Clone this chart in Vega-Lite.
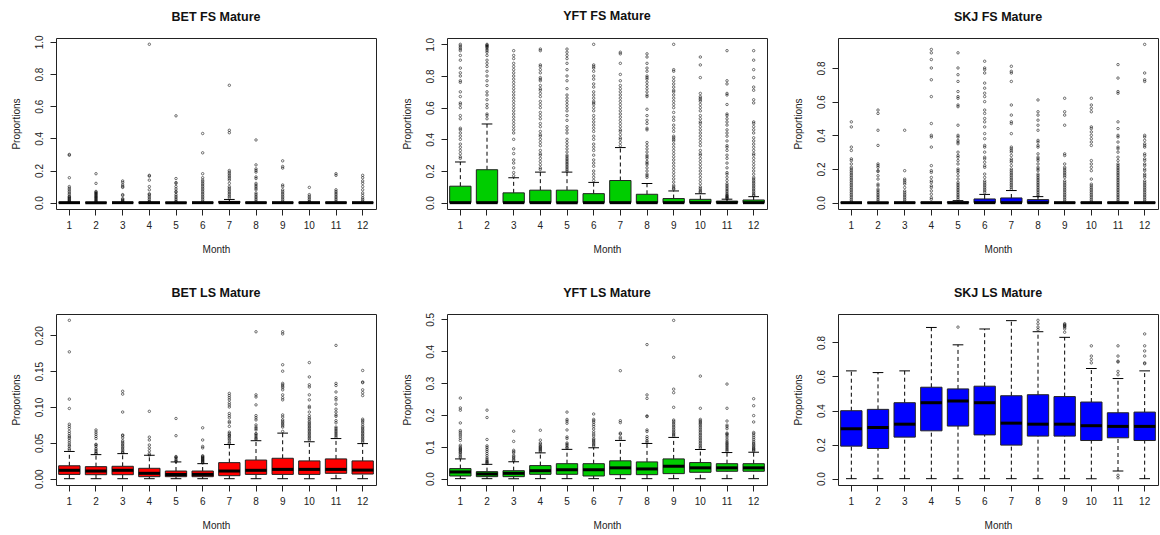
{
"$schema": "https://vega.github.io/schema/vega-lite/v6.json",
"background": "white",
"padding": {"left": 10, "top": 9, "right": 0, "bottom": 0},
"config": {
  "font": "Liberation Sans",
  "view": {"stroke": "#222", "strokeWidth": 1},
  "axis": {"labelFont": "Liberation Sans", "labelFontSize": 10, "labelColor": "#222", "titleFont": "Liberation Sans", "titleFontSize": 10, "titleFontWeight": "normal", "titleColor": "#222", "tickColor": "#222", "tickSize": 6, "domain": false, "grid": false},
  "axisX": {"labelAngle": 0, "labelPadding": 5, "titleY": 40, "titleBaseline": "middle"},
  "axisY": {"labelAngle": -90, "labelAlign": "center", "labelBaseline": "bottom", "labelPadding": 6, "titleX": -40, "titleBaseline": "middle"},
  "title": {"font": "Liberation Sans", "fontSize": 12.5, "fontWeight": "bold", "anchor": "middle", "frame": "group", "baseline": "alphabetic", "offset": 15, "color": "#111"}
},
"datasets": {
"box": [
{"p":1,"m":1,"lo":0,"q1":0,"md":0,"q3":0,"hi":0},{"p":1,"m":2,"lo":0,"q1":0,"md":0,"q3":0,"hi":0},{"p":1,"m":3,"lo":0,"q1":0,"md":0,"q3":0,"hi":0},{"p":1,"m":4,"lo":0,"q1":0,"md":0,"q3":0,"hi":0},{"p":1,"m":5,"lo":0,"q1":0,"md":0,"q3":0,"hi":0},{"p":1,"m":6,"lo":0,"q1":0,"md":0,"q3":0,"hi":0},{"p":1,"m":7,"lo":0,"q1":0,"md":0,"q3":0.008,"hi":0.02},{"p":1,"m":8,"lo":0,"q1":0,"md":0,"q3":0,"hi":0},{"p":1,"m":9,"lo":0,"q1":0,"md":0,"q3":0,"hi":0},{"p":1,"m":10,"lo":0,"q1":0,"md":0,"q3":0,"hi":0},{"p":1,"m":11,"lo":0,"q1":0,"md":0,"q3":0,"hi":0},{"p":1,"m":12,"lo":0,"q1":0,"md":0,"q3":0,"hi":0},
{"p":2,"m":1,"lo":0,"q1":0,"md":0,"q3":0.104,"hi":0.257},{"p":2,"m":2,"lo":0,"q1":0,"md":0,"q3":0.208,"hi":0.497},{"p":2,"m":3,"lo":0,"q1":0,"md":0,"q3":0.062,"hi":0.157},{"p":2,"m":4,"lo":0,"q1":0,"md":0,"q3":0.079,"hi":0.193},{"p":2,"m":5,"lo":0,"q1":0,"md":0,"q3":0.079,"hi":0.193},{"p":2,"m":6,"lo":0,"q1":0,"md":0,"q3":0.057,"hi":0.128},{"p":2,"m":7,"lo":0,"q1":0,"md":0,"q3":0.14,"hi":0.348},{"p":2,"m":8,"lo":0,"q1":0,"md":0,"q3":0.053,"hi":0.121},{"p":2,"m":9,"lo":0,"q1":0,"md":0,"q3":0.026,"hi":0.074},{"p":2,"m":10,"lo":0,"q1":0,"md":0,"q3":0.021,"hi":0.057},{"p":2,"m":11,"lo":0,"q1":0,"md":0,"q3":0.01,"hi":0.022},{"p":2,"m":12,"lo":0,"q1":0,"md":0,"q3":0.017,"hi":0.038},
{"p":3,"m":1,"lo":0,"q1":0,"md":0,"q3":0,"hi":0},{"p":3,"m":2,"lo":0,"q1":0,"md":0,"q3":0,"hi":0},{"p":3,"m":3,"lo":0,"q1":0,"md":0,"q3":0,"hi":0},{"p":3,"m":4,"lo":0,"q1":0,"md":0,"q3":0,"hi":0},{"p":3,"m":5,"lo":0,"q1":0,"md":0,"q3":0.005,"hi":0.012},{"p":3,"m":6,"lo":0,"q1":0,"md":0,"q3":0.022,"hi":0.049},{"p":3,"m":7,"lo":0,"q1":0,"md":0,"q3":0.028,"hi":0.072},{"p":3,"m":8,"lo":0,"q1":0,"md":0,"q3":0.018,"hi":0.036},{"p":3,"m":9,"lo":0,"q1":0,"md":0,"q3":0,"hi":0},{"p":3,"m":10,"lo":0,"q1":0,"md":0,"q3":0,"hi":0},{"p":3,"m":11,"lo":0,"q1":0,"md":0,"q3":0,"hi":0},{"p":3,"m":12,"lo":0,"q1":0,"md":0,"q3":0,"hi":0},
{"p":4,"m":1,"lo":0,"q1":0.006,"md":0.0117,"q3":0.018,"hi":0.038},{"p":4,"m":2,"lo":0,"q1":0.0056,"md":0.0107,"q3":0.0168,"hi":0.0336},{"p":4,"m":3,"lo":0,"q1":0.0056,"md":0.0117,"q3":0.0173,"hi":0.035},{"p":4,"m":4,"lo":0,"q1":0.0028,"md":0.0075,"q3":0.0145,"hi":0.0327},{"p":4,"m":5,"lo":0,"q1":0.0028,"md":0.006,"q3":0.0107,"hi":0.0234},{"p":4,"m":6,"lo":0,"q1":0.0028,"md":0.006,"q3":0.0107,"hi":0.021},{"p":4,"m":7,"lo":0,"q1":0.0042,"md":0.0107,"q3":0.0224,"hi":0.0477},{"p":4,"m":8,"lo":0,"q1":0.006,"md":0.0117,"q3":0.026,"hi":0.053},{"p":4,"m":9,"lo":0,"q1":0.006,"md":0.013,"q3":0.0285,"hi":0.0636},{"p":4,"m":10,"lo":0,"q1":0.006,"md":0.013,"q3":0.0248,"hi":0.0514},{"p":4,"m":11,"lo":0,"q1":0.0075,"md":0.013,"q3":0.0276,"hi":0.056},{"p":4,"m":12,"lo":0,"q1":0.0065,"md":0.012,"q3":0.0248,"hi":0.049},
{"p":5,"m":1,"lo":0,"q1":0.0084,"md":0.021,"q3":0.0316,"hi":0.062},{"p":5,"m":2,"lo":0,"q1":0.0063,"md":0.0147,"q3":0.022,"hi":0.045},{"p":5,"m":3,"lo":0,"q1":0.0063,"md":0.0168,"q3":0.025,"hi":0.053},{"p":5,"m":4,"lo":0,"q1":0.0137,"md":0.025,"q3":0.041,"hi":0.081},{"p":5,"m":5,"lo":0,"q1":0.0137,"md":0.028,"q3":0.047,"hi":0.092},{"p":5,"m":6,"lo":0,"q1":0.0084,"md":0.028,"q3":0.047,"hi":0.097},{"p":5,"m":7,"lo":0,"q1":0.0126,"md":0.034,"q3":0.056,"hi":0.12},{"p":5,"m":8,"lo":0,"q1":0.0126,"md":0.0305,"q3":0.0526,"hi":0.1105},{"p":5,"m":9,"lo":0,"q1":0.0158,"md":0.039,"q3":0.062,"hi":0.1295},{"p":5,"m":10,"lo":0,"q1":0.02,"md":0.034,"q3":0.0505,"hi":0.0916},{"p":5,"m":11,"lo":0,"q1":0.0232,"md":0.034,"q3":0.047,"hi":0.082},{"p":5,"m":12,"lo":0,"q1":0.0232,"md":0.034,"q3":0.047,"hi":0.083},
{"p":6,"m":1,"lo":0,"q1":0.191,"md":0.293,"q3":0.399,"hi":0.633},{"p":6,"m":2,"lo":0,"q1":0.177,"md":0.301,"q3":0.407,"hi":0.623},{"p":6,"m":3,"lo":0,"q1":0.244,"md":0.32,"q3":0.446,"hi":0.633},{"p":6,"m":4,"lo":0,"q1":0.281,"md":0.446,"q3":0.537,"hi":0.888},{"p":6,"m":5,"lo":0,"q1":0.309,"md":0.456,"q3":0.527,"hi":0.786},{"p":6,"m":6,"lo":0,"q1":0.257,"md":0.446,"q3":0.543,"hi":0.879},{"p":6,"m":7,"lo":0,"q1":0.197,"md":0.326,"q3":0.487,"hi":0.928},{"p":6,"m":8,"lo":0,"q1":0.25,"md":0.32,"q3":0.493,"hi":0.863},{"p":6,"m":9,"lo":0,"q1":0.25,"md":0.32,"q3":0.482,"hi":0.83},{"p":6,"m":10,"lo":0,"q1":0.224,"md":0.311,"q3":0.45,"hi":0.647},{"p":6,"m":11,"lo":0.045,"q1":0.24,"md":0.307,"q3":0.387,"hi":0.588},{"p":6,"m":12,"lo":0,"q1":0.224,"md":0.307,"q3":0.391,"hi":0.633}
],
"out": [
{"p":1,"m":1,"v":0.3},{"p":1,"m":1,"v":0.295},{"p":1,"m":1,"v":0.155},{"p":1,"m":1,"v":0.1},{"p":1,"m":1,"v":0.09},{"p":1,"m":1,"v":0.08},{"p":1,"m":1,"v":0.07},{"p":1,"m":1,"v":0.06},{"p":1,"m":1,"v":0.05},{"p":1,"m":1,"v":0.04},{"p":1,"m":1,"v":0.035},{"p":1,"m":1,"v":0.03},{"p":1,"m":1,"v":0.025},{"p":1,"m":1,"v":0.02},{"p":1,"m":1,"v":0.015},{"p":1,"m":1,"v":0.01},{"p":1,"m":1,"v":0.005},
{"p":1,"m":2,"v":0.18},{"p":1,"m":2,"v":0.12},{"p":1,"m":2,"v":0.07},{"p":1,"m":2,"v":0.065},{"p":1,"m":2,"v":0.06},{"p":1,"m":2,"v":0.055},{"p":1,"m":2,"v":0.05},{"p":1,"m":2,"v":0.045},{"p":1,"m":2,"v":0.04},{"p":1,"m":2,"v":0.035},{"p":1,"m":2,"v":0.03},{"p":1,"m":2,"v":0.025},{"p":1,"m":2,"v":0.02},{"p":1,"m":2,"v":0.015},{"p":1,"m":2,"v":0.01},{"p":1,"m":2,"v":0.005},
{"p":1,"m":3,"v":0.135},{"p":1,"m":3,"v":0.125},{"p":1,"m":3,"v":0.11},{"p":1,"m":3,"v":0.1},{"p":1,"m":3,"v":0.095},{"p":1,"m":3,"v":0.05},{"p":1,"m":3,"v":0.045},{"p":1,"m":3,"v":0.025},{"p":1,"m":3,"v":0.02},{"p":1,"m":3,"v":0.015},{"p":1,"m":3,"v":0.01},{"p":1,"m":3,"v":0.005},
{"p":1,"m":4,"v":0.985},{"p":1,"m":4,"v":0.17},{"p":1,"m":4,"v":0.165},{"p":1,"m":4,"v":0.14},{"p":1,"m":4,"v":0.1},{"p":1,"m":4,"v":0.08},{"p":1,"m":4,"v":0.055},{"p":1,"m":4,"v":0.05},{"p":1,"m":4,"v":0.04},{"p":1,"m":4,"v":0.03},{"p":1,"m":4,"v":0.02},{"p":1,"m":4,"v":0.01},{"p":1,"m":4,"v":0.005},
{"p":1,"m":5,"v":0.54},{"p":1,"m":5,"v":0.15},{"p":1,"m":5,"v":0.125},{"p":1,"m":5,"v":0.12},{"p":1,"m":5,"v":0.1},{"p":1,"m":5,"v":0.085},{"p":1,"m":5,"v":0.07},{"p":1,"m":5,"v":0.065},{"p":1,"m":5,"v":0.05},{"p":1,"m":5,"v":0.04},{"p":1,"m":5,"v":0.03},{"p":1,"m":5,"v":0.02},{"p":1,"m":5,"v":0.01},{"p":1,"m":5,"v":0.005},
{"p":1,"m":6,"v":0.43},{"p":1,"m":6,"v":0.31},{"p":1,"m":6,"v":0.18},{"p":1,"m":6,"v":0.155},{"p":1,"m":6,"v":0.14},{"p":1,"m":6,"v":0.13},{"p":1,"m":6,"v":0.12},{"p":1,"m":6,"v":0.11},{"p":1,"m":6,"v":0.1},{"p":1,"m":6,"v":0.09},{"p":1,"m":6,"v":0.08},{"p":1,"m":6,"v":0.07},{"p":1,"m":6,"v":0.06},{"p":1,"m":6,"v":0.05},{"p":1,"m":6,"v":0.04},{"p":1,"m":6,"v":0.03},{"p":1,"m":6,"v":0.02},{"p":1,"m":6,"v":0.01},
{"p":1,"m":7,"v":0.73},{"p":1,"m":7,"v":0.45},{"p":1,"m":7,"v":0.435},{"p":1,"m":7,"v":0.2},{"p":1,"m":7,"v":0.19},{"p":1,"m":7,"v":0.18},{"p":1,"m":7,"v":0.17},{"p":1,"m":7,"v":0.16},{"p":1,"m":7,"v":0.15},{"p":1,"m":7,"v":0.14},{"p":1,"m":7,"v":0.12},{"p":1,"m":7,"v":0.1},{"p":1,"m":7,"v":0.09},{"p":1,"m":7,"v":0.08},{"p":1,"m":7,"v":0.07},{"p":1,"m":7,"v":0.06},{"p":1,"m":7,"v":0.05},{"p":1,"m":7,"v":0.04},{"p":1,"m":7,"v":0.03},
{"p":1,"m":8,"v":0.39},{"p":1,"m":8,"v":0.235},{"p":1,"m":8,"v":0.21},{"p":1,"m":8,"v":0.2},{"p":1,"m":8,"v":0.19},{"p":1,"m":8,"v":0.16},{"p":1,"m":8,"v":0.15},{"p":1,"m":8,"v":0.12},{"p":1,"m":8,"v":0.11},{"p":1,"m":8,"v":0.1},{"p":1,"m":8,"v":0.09},{"p":1,"m":8,"v":0.08},{"p":1,"m":8,"v":0.06},{"p":1,"m":8,"v":0.05},{"p":1,"m":8,"v":0.04},{"p":1,"m":8,"v":0.03},{"p":1,"m":8,"v":0.02},{"p":1,"m":8,"v":0.01},
{"p":1,"m":9,"v":0.26},{"p":1,"m":9,"v":0.225},{"p":1,"m":9,"v":0.215},{"p":1,"m":9,"v":0.11},{"p":1,"m":9,"v":0.1},{"p":1,"m":9,"v":0.08},{"p":1,"m":9,"v":0.07},{"p":1,"m":9,"v":0.06},{"p":1,"m":9,"v":0.05},{"p":1,"m":9,"v":0.04},{"p":1,"m":9,"v":0.03},{"p":1,"m":9,"v":0.02},{"p":1,"m":9,"v":0.01},
{"p":1,"m":10,"v":0.095},{"p":1,"m":10,"v":0.05},{"p":1,"m":10,"v":0.04},{"p":1,"m":10,"v":0.03},{"p":1,"m":10,"v":0.02},{"p":1,"m":10,"v":0.01},{"p":1,"m":10,"v":0.005},
{"p":1,"m":11,"v":0.18},{"p":1,"m":11,"v":0.17},{"p":1,"m":11,"v":0.08},{"p":1,"m":11,"v":0.07},{"p":1,"m":11,"v":0.06},{"p":1,"m":11,"v":0.05},{"p":1,"m":11,"v":0.04},{"p":1,"m":11,"v":0.03},{"p":1,"m":11,"v":0.02},{"p":1,"m":11,"v":0.01},
{"p":1,"m":12,"v":0.17},{"p":1,"m":12,"v":0.155},{"p":1,"m":12,"v":0.135},{"p":1,"m":12,"v":0.12},{"p":1,"m":12,"v":0.1},{"p":1,"m":12,"v":0.08},{"p":1,"m":12,"v":0.06},{"p":1,"m":12,"v":0.045},{"p":1,"m":12,"v":0.03},{"p":1,"m":12,"v":0.02},{"p":1,"m":12,"v":0.01},

{"p":2,"m":1,"v":1.0},{"p":2,"m":1,"v":0.99},{"p":2,"m":1,"v":0.98},{"p":2,"m":1,"v":0.97},{"p":2,"m":1,"v":0.96},{"p":2,"m":1,"v":0.93},{"p":2,"m":1,"v":0.9},{"p":2,"m":1,"v":0.85},{"p":2,"m":1,"v":0.82},{"p":2,"m":1,"v":0.8},{"p":2,"m":1,"v":0.77},{"p":2,"m":1,"v":0.76},{"p":2,"m":1,"v":0.7},{"p":2,"m":1,"v":0.67},{"p":2,"m":1,"v":0.63},{"p":2,"m":1,"v":0.62},{"p":2,"m":1,"v":0.6},{"p":2,"m":1,"v":0.55},{"p":2,"m":1,"v":0.53},{"p":2,"m":1,"v":0.47},{"p":2,"m":1,"v":0.46},{"p":2,"m":1,"v":0.44},{"p":2,"m":1,"v":0.42},{"p":2,"m":1,"v":0.4},{"p":2,"m":1,"v":0.37},{"p":2,"m":1,"v":0.35},{"p":2,"m":1,"v":0.33},{"p":2,"m":1,"v":0.31},{"p":2,"m":1,"v":0.29},{"p":2,"m":1,"v":0.28},
{"p":2,"m":2,"v":1.0},{"p":2,"m":2,"v":0.995},{"p":2,"m":2,"v":0.99},{"p":2,"m":2,"v":0.985},{"p":2,"m":2,"v":0.98},{"p":2,"m":2,"v":0.97},{"p":2,"m":2,"v":0.96},{"p":2,"m":2,"v":0.95},{"p":2,"m":2,"v":0.93},{"p":2,"m":2,"v":0.9},{"p":2,"m":2,"v":0.88},{"p":2,"m":2,"v":0.86},{"p":2,"m":2,"v":0.83},{"p":2,"m":2,"v":0.8},{"p":2,"m":2,"v":0.77},{"p":2,"m":2,"v":0.74},{"p":2,"m":2,"v":0.7},{"p":2,"m":2,"v":0.68},{"p":2,"m":2,"v":0.65},{"p":2,"m":2,"v":0.62},{"p":2,"m":2,"v":0.6},{"p":2,"m":2,"v":0.56},{"p":2,"m":2,"v":0.55},{"p":2,"m":2,"v":0.53},
{"p":2,"m":3,"v":0.96},{"p":2,"m":3,"v":0.93},{"p":2,"m":3,"v":0.91},{"p":2,"m":3,"v":0.88},{"p":2,"m":3,"v":0.86},{"p":2,"m":3,"v":0.84},{"p":2,"m":3,"v":0.82},{"p":2,"m":3,"v":0.8},{"p":2,"m":3,"v":0.78},{"p":2,"m":3,"v":0.76},{"p":2,"m":3,"v":0.74},{"p":2,"m":3,"v":0.72},{"p":2,"m":3,"v":0.7},{"p":2,"m":3,"v":0.68},{"p":2,"m":3,"v":0.66},{"p":2,"m":3,"v":0.64},{"p":2,"m":3,"v":0.62},{"p":2,"m":3,"v":0.6},{"p":2,"m":3,"v":0.58},{"p":2,"m":3,"v":0.56},{"p":2,"m":3,"v":0.54},{"p":2,"m":3,"v":0.52},{"p":2,"m":3,"v":0.5},{"p":2,"m":3,"v":0.48},{"p":2,"m":3,"v":0.46},{"p":2,"m":3,"v":0.44},{"p":2,"m":3,"v":0.4},{"p":2,"m":3,"v":0.34},{"p":2,"m":3,"v":0.31},{"p":2,"m":3,"v":0.27},{"p":2,"m":3,"v":0.25},{"p":2,"m":3,"v":0.22},{"p":2,"m":3,"v":0.19},{"p":2,"m":3,"v":0.17},
{"p":2,"m":4,"v":0.97},{"p":2,"m":4,"v":0.96},{"p":2,"m":4,"v":0.87},{"p":2,"m":4,"v":0.86},{"p":2,"m":4,"v":0.84},{"p":2,"m":4,"v":0.82},{"p":2,"m":4,"v":0.79},{"p":2,"m":4,"v":0.78},{"p":2,"m":4,"v":0.77},{"p":2,"m":4,"v":0.74},{"p":2,"m":4,"v":0.72},{"p":2,"m":4,"v":0.71},{"p":2,"m":4,"v":0.69},{"p":2,"m":4,"v":0.67},{"p":2,"m":4,"v":0.64},{"p":2,"m":4,"v":0.62},{"p":2,"m":4,"v":0.6},{"p":2,"m":4,"v":0.57},{"p":2,"m":4,"v":0.55},{"p":2,"m":4,"v":0.53},{"p":2,"m":4,"v":0.5},{"p":2,"m":4,"v":0.48},{"p":2,"m":4,"v":0.45},{"p":2,"m":4,"v":0.43},{"p":2,"m":4,"v":0.42},{"p":2,"m":4,"v":0.4},{"p":2,"m":4,"v":0.38},{"p":2,"m":4,"v":0.36},{"p":2,"m":4,"v":0.33},{"p":2,"m":4,"v":0.31},{"p":2,"m":4,"v":0.3},{"p":2,"m":4,"v":0.28},{"p":2,"m":4,"v":0.26},{"p":2,"m":4,"v":0.24},{"p":2,"m":4,"v":0.22},{"p":2,"m":4,"v":0.21},
{"p":2,"m":5,"v":0.97},{"p":2,"m":5,"v":0.95},{"p":2,"m":5,"v":0.93},{"p":2,"m":5,"v":0.91},{"p":2,"m":5,"v":0.88},{"p":2,"m":5,"v":0.84},{"p":2,"m":5,"v":0.8},{"p":2,"m":5,"v":0.77},{"p":2,"m":5,"v":0.72},{"p":2,"m":5,"v":0.68},{"p":2,"m":5,"v":0.66},{"p":2,"m":5,"v":0.64},{"p":2,"m":5,"v":0.62},{"p":2,"m":5,"v":0.6},{"p":2,"m":5,"v":0.58},{"p":2,"m":5,"v":0.55},{"p":2,"m":5,"v":0.52},{"p":2,"m":5,"v":0.48},{"p":2,"m":5,"v":0.46},{"p":2,"m":5,"v":0.44},{"p":2,"m":5,"v":0.4},{"p":2,"m":5,"v":0.38},{"p":2,"m":5,"v":0.36},{"p":2,"m":5,"v":0.34},{"p":2,"m":5,"v":0.32},{"p":2,"m":5,"v":0.3},{"p":2,"m":5,"v":0.29},{"p":2,"m":5,"v":0.28},{"p":2,"m":5,"v":0.27},{"p":2,"m":5,"v":0.26},{"p":2,"m":5,"v":0.25},{"p":2,"m":5,"v":0.24},{"p":2,"m":5,"v":0.23},{"p":2,"m":5,"v":0.22},{"p":2,"m":5,"v":0.21},{"p":2,"m":5,"v":0.2},
{"p":2,"m":6,"v":1.0},{"p":2,"m":6,"v":0.87},{"p":2,"m":6,"v":0.86},{"p":2,"m":6,"v":0.85},{"p":2,"m":6,"v":0.83},{"p":2,"m":6,"v":0.8},{"p":2,"m":6,"v":0.78},{"p":2,"m":6,"v":0.75},{"p":2,"m":6,"v":0.73},{"p":2,"m":6,"v":0.7},{"p":2,"m":6,"v":0.68},{"p":2,"m":6,"v":0.66},{"p":2,"m":6,"v":0.64},{"p":2,"m":6,"v":0.63},{"p":2,"m":6,"v":0.62},{"p":2,"m":6,"v":0.6},{"p":2,"m":6,"v":0.58},{"p":2,"m":6,"v":0.55},{"p":2,"m":6,"v":0.53},{"p":2,"m":6,"v":0.51},{"p":2,"m":6,"v":0.49},{"p":2,"m":6,"v":0.47},{"p":2,"m":6,"v":0.45},{"p":2,"m":6,"v":0.42},{"p":2,"m":6,"v":0.4},{"p":2,"m":6,"v":0.37},{"p":2,"m":6,"v":0.35},{"p":2,"m":6,"v":0.33},{"p":2,"m":6,"v":0.3},{"p":2,"m":6,"v":0.27},{"p":2,"m":6,"v":0.25},{"p":2,"m":6,"v":0.23},{"p":2,"m":6,"v":0.2},{"p":2,"m":6,"v":0.18},{"p":2,"m":6,"v":0.16},{"p":2,"m":6,"v":0.14},
{"p":2,"m":7,"v":0.95},{"p":2,"m":7,"v":0.94},{"p":2,"m":7,"v":0.88},{"p":2,"m":7,"v":0.81},{"p":2,"m":7,"v":0.77},{"p":2,"m":7,"v":0.74},{"p":2,"m":7,"v":0.72},{"p":2,"m":7,"v":0.7},{"p":2,"m":7,"v":0.68},{"p":2,"m":7,"v":0.66},{"p":2,"m":7,"v":0.64},{"p":2,"m":7,"v":0.62},{"p":2,"m":7,"v":0.6},{"p":2,"m":7,"v":0.58},{"p":2,"m":7,"v":0.56},{"p":2,"m":7,"v":0.54},{"p":2,"m":7,"v":0.52},{"p":2,"m":7,"v":0.5},{"p":2,"m":7,"v":0.48},{"p":2,"m":7,"v":0.46},{"p":2,"m":7,"v":0.45},{"p":2,"m":7,"v":0.43},{"p":2,"m":7,"v":0.41},{"p":2,"m":7,"v":0.4},{"p":2,"m":7,"v":0.38},{"p":2,"m":7,"v":0.36},
{"p":2,"m":8,"v":0.94},{"p":2,"m":8,"v":0.92},{"p":2,"m":8,"v":0.88},{"p":2,"m":8,"v":0.85},{"p":2,"m":8,"v":0.83},{"p":2,"m":8,"v":0.8},{"p":2,"m":8,"v":0.79},{"p":2,"m":8,"v":0.78},{"p":2,"m":8,"v":0.76},{"p":2,"m":8,"v":0.74},{"p":2,"m":8,"v":0.72},{"p":2,"m":8,"v":0.7},{"p":2,"m":8,"v":0.68},{"p":2,"m":8,"v":0.67},{"p":2,"m":8,"v":0.59},{"p":2,"m":8,"v":0.55},{"p":2,"m":8,"v":0.52},{"p":2,"m":8,"v":0.5},{"p":2,"m":8,"v":0.47},{"p":2,"m":8,"v":0.46},{"p":2,"m":8,"v":0.38},{"p":2,"m":8,"v":0.36},{"p":2,"m":8,"v":0.34},{"p":2,"m":8,"v":0.32},{"p":2,"m":8,"v":0.3},{"p":2,"m":8,"v":0.29},{"p":2,"m":8,"v":0.28},{"p":2,"m":8,"v":0.26},{"p":2,"m":8,"v":0.25},{"p":2,"m":8,"v":0.24},{"p":2,"m":8,"v":0.22},{"p":2,"m":8,"v":0.2},{"p":2,"m":8,"v":0.18},{"p":2,"m":8,"v":0.17},{"p":2,"m":8,"v":0.16},
{"p":2,"m":9,"v":1.0},{"p":2,"m":9,"v":0.84},{"p":2,"m":9,"v":0.83},{"p":2,"m":9,"v":0.79},{"p":2,"m":9,"v":0.77},{"p":2,"m":9,"v":0.75},{"p":2,"m":9,"v":0.73},{"p":2,"m":9,"v":0.71},{"p":2,"m":9,"v":0.7},{"p":2,"m":9,"v":0.68},{"p":2,"m":9,"v":0.66},{"p":2,"m":9,"v":0.64},{"p":2,"m":9,"v":0.62},{"p":2,"m":9,"v":0.6},{"p":2,"m":9,"v":0.57},{"p":2,"m":9,"v":0.54},{"p":2,"m":9,"v":0.52},{"p":2,"m":9,"v":0.49},{"p":2,"m":9,"v":0.47},{"p":2,"m":9,"v":0.45},{"p":2,"m":9,"v":0.42},{"p":2,"m":9,"v":0.41},{"p":2,"m":9,"v":0.4},{"p":2,"m":9,"v":0.39},{"p":2,"m":9,"v":0.37},{"p":2,"m":9,"v":0.35},{"p":2,"m":9,"v":0.33},{"p":2,"m":9,"v":0.31},{"p":2,"m":9,"v":0.29},{"p":2,"m":9,"v":0.27},{"p":2,"m":9,"v":0.25},{"p":2,"m":9,"v":0.23},{"p":2,"m":9,"v":0.21},{"p":2,"m":9,"v":0.19},{"p":2,"m":9,"v":0.17},{"p":2,"m":9,"v":0.15},{"p":2,"m":9,"v":0.13},{"p":2,"m":9,"v":0.11},{"p":2,"m":9,"v":0.1},{"p":2,"m":9,"v":0.09},{"p":2,"m":9,"v":0.085},
{"p":2,"m":10,"v":0.92},{"p":2,"m":10,"v":0.87},{"p":2,"m":10,"v":0.79},{"p":2,"m":10,"v":0.69},{"p":2,"m":10,"v":0.67},{"p":2,"m":10,"v":0.66},{"p":2,"m":10,"v":0.65},{"p":2,"m":10,"v":0.64},{"p":2,"m":10,"v":0.62},{"p":2,"m":10,"v":0.6},{"p":2,"m":10,"v":0.58},{"p":2,"m":10,"v":0.55},{"p":2,"m":10,"v":0.53},{"p":2,"m":10,"v":0.51},{"p":2,"m":10,"v":0.5},{"p":2,"m":10,"v":0.48},{"p":2,"m":10,"v":0.46},{"p":2,"m":10,"v":0.44},{"p":2,"m":10,"v":0.42},{"p":2,"m":10,"v":0.4},{"p":2,"m":10,"v":0.38},{"p":2,"m":10,"v":0.36},{"p":2,"m":10,"v":0.33},{"p":2,"m":10,"v":0.31},{"p":2,"m":10,"v":0.3},{"p":2,"m":10,"v":0.28},{"p":2,"m":10,"v":0.26},{"p":2,"m":10,"v":0.24},{"p":2,"m":10,"v":0.22},{"p":2,"m":10,"v":0.2},{"p":2,"m":10,"v":0.18},{"p":2,"m":10,"v":0.16},{"p":2,"m":10,"v":0.14},{"p":2,"m":10,"v":0.12},{"p":2,"m":10,"v":0.1},{"p":2,"m":10,"v":0.09},{"p":2,"m":10,"v":0.08},{"p":2,"m":10,"v":0.07},{"p":2,"m":10,"v":0.065},
{"p":2,"m":11,"v":0.96},{"p":2,"m":11,"v":0.77},{"p":2,"m":11,"v":0.75},{"p":2,"m":11,"v":0.69},{"p":2,"m":11,"v":0.68},{"p":2,"m":11,"v":0.62},{"p":2,"m":11,"v":0.56},{"p":2,"m":11,"v":0.55},{"p":2,"m":11,"v":0.53},{"p":2,"m":11,"v":0.51},{"p":2,"m":11,"v":0.49},{"p":2,"m":11,"v":0.46},{"p":2,"m":11,"v":0.44},{"p":2,"m":11,"v":0.42},{"p":2,"m":11,"v":0.39},{"p":2,"m":11,"v":0.36},{"p":2,"m":11,"v":0.35},{"p":2,"m":11,"v":0.33},{"p":2,"m":11,"v":0.3},{"p":2,"m":11,"v":0.28},{"p":2,"m":11,"v":0.25},{"p":2,"m":11,"v":0.22},{"p":2,"m":11,"v":0.19},{"p":2,"m":11,"v":0.18},{"p":2,"m":11,"v":0.16},{"p":2,"m":11,"v":0.14},{"p":2,"m":11,"v":0.12},{"p":2,"m":11,"v":0.11},{"p":2,"m":11,"v":0.1},{"p":2,"m":11,"v":0.09},{"p":2,"m":11,"v":0.08},{"p":2,"m":11,"v":0.07},{"p":2,"m":11,"v":0.06},{"p":2,"m":11,"v":0.05},{"p":2,"m":11,"v":0.045},{"p":2,"m":11,"v":0.04},{"p":2,"m":11,"v":0.035},{"p":2,"m":11,"v":0.03},{"p":2,"m":11,"v":0.025},
{"p":2,"m":12,"v":0.96},{"p":2,"m":12,"v":0.9},{"p":2,"m":12,"v":0.84},{"p":2,"m":12,"v":0.79},{"p":2,"m":12,"v":0.73},{"p":2,"m":12,"v":0.71},{"p":2,"m":12,"v":0.65},{"p":2,"m":12,"v":0.63},{"p":2,"m":12,"v":0.51},{"p":2,"m":12,"v":0.5},{"p":2,"m":12,"v":0.48},{"p":2,"m":12,"v":0.46},{"p":2,"m":12,"v":0.44},{"p":2,"m":12,"v":0.41},{"p":2,"m":12,"v":0.39},{"p":2,"m":12,"v":0.37},{"p":2,"m":12,"v":0.35},{"p":2,"m":12,"v":0.33},{"p":2,"m":12,"v":0.31},{"p":2,"m":12,"v":0.3},{"p":2,"m":12,"v":0.28},{"p":2,"m":12,"v":0.26},{"p":2,"m":12,"v":0.24},{"p":2,"m":12,"v":0.22},{"p":2,"m":12,"v":0.2},{"p":2,"m":12,"v":0.18},{"p":2,"m":12,"v":0.16},{"p":2,"m":12,"v":0.15},{"p":2,"m":12,"v":0.14},{"p":2,"m":12,"v":0.13},{"p":2,"m":12,"v":0.12},{"p":2,"m":12,"v":0.11},{"p":2,"m":12,"v":0.1},{"p":2,"m":12,"v":0.09},{"p":2,"m":12,"v":0.08},{"p":2,"m":12,"v":0.07},{"p":2,"m":12,"v":0.06},{"p":2,"m":12,"v":0.05},{"p":2,"m":12,"v":0.045},

{"p":3,"m":1,"v":0.48},{"p":3,"m":1,"v":0.45},{"p":3,"m":1,"v":0.33},{"p":3,"m":1,"v":0.31},{"p":3,"m":1,"v":0.26},{"p":3,"m":1,"v":0.25},{"p":3,"m":1,"v":0.23},{"p":3,"m":1,"v":0.21},{"p":3,"m":1,"v":0.2},{"p":3,"m":1,"v":0.19},{"p":3,"m":1,"v":0.18},{"p":3,"m":1,"v":0.17},{"p":3,"m":1,"v":0.16},{"p":3,"m":1,"v":0.15},{"p":3,"m":1,"v":0.14},{"p":3,"m":1,"v":0.13},{"p":3,"m":1,"v":0.12},{"p":3,"m":1,"v":0.11},{"p":3,"m":1,"v":0.1},{"p":3,"m":1,"v":0.09},{"p":3,"m":1,"v":0.08},{"p":3,"m":1,"v":0.07},{"p":3,"m":1,"v":0.06},{"p":3,"m":1,"v":0.05},{"p":3,"m":1,"v":0.04},{"p":3,"m":1,"v":0.03},{"p":3,"m":1,"v":0.02},{"p":3,"m":1,"v":0.01},
{"p":3,"m":2,"v":0.55},{"p":3,"m":2,"v":0.53},{"p":3,"m":2,"v":0.43},{"p":3,"m":2,"v":0.34},{"p":3,"m":2,"v":0.23},{"p":3,"m":2,"v":0.22},{"p":3,"m":2,"v":0.21},{"p":3,"m":2,"v":0.19},{"p":3,"m":2,"v":0.185},{"p":3,"m":2,"v":0.16},{"p":3,"m":2,"v":0.14},{"p":3,"m":2,"v":0.11},{"p":3,"m":2,"v":0.1},{"p":3,"m":2,"v":0.08},{"p":3,"m":2,"v":0.07},{"p":3,"m":2,"v":0.06},{"p":3,"m":2,"v":0.05},{"p":3,"m":2,"v":0.04},{"p":3,"m":2,"v":0.03},{"p":3,"m":2,"v":0.02},{"p":3,"m":2,"v":0.01},
{"p":3,"m":3,"v":0.43},{"p":3,"m":3,"v":0.19},{"p":3,"m":3,"v":0.14},{"p":3,"m":3,"v":0.13},{"p":3,"m":3,"v":0.12},{"p":3,"m":3,"v":0.11},{"p":3,"m":3,"v":0.09},{"p":3,"m":3,"v":0.07},{"p":3,"m":3,"v":0.06},{"p":3,"m":3,"v":0.05},{"p":3,"m":3,"v":0.04},{"p":3,"m":3,"v":0.03},{"p":3,"m":3,"v":0.02},{"p":3,"m":3,"v":0.01},
{"p":3,"m":4,"v":0.91},{"p":3,"m":4,"v":0.89},{"p":3,"m":4,"v":0.85},{"p":3,"m":4,"v":0.8},{"p":3,"m":4,"v":0.73},{"p":3,"m":4,"v":0.63},{"p":3,"m":4,"v":0.47},{"p":3,"m":4,"v":0.4},{"p":3,"m":4,"v":0.39},{"p":3,"m":4,"v":0.33},{"p":3,"m":4,"v":0.22},{"p":3,"m":4,"v":0.19},{"p":3,"m":4,"v":0.18},{"p":3,"m":4,"v":0.15},{"p":3,"m":4,"v":0.13},{"p":3,"m":4,"v":0.12},{"p":3,"m":4,"v":0.1},{"p":3,"m":4,"v":0.09},{"p":3,"m":4,"v":0.07},{"p":3,"m":4,"v":0.05},{"p":3,"m":4,"v":0.03},{"p":3,"m":4,"v":0.02},
{"p":3,"m":5,"v":0.89},{"p":3,"m":5,"v":0.8},{"p":3,"m":5,"v":0.76},{"p":3,"m":5,"v":0.72},{"p":3,"m":5,"v":0.66},{"p":3,"m":5,"v":0.63},{"p":3,"m":5,"v":0.62},{"p":3,"m":5,"v":0.58},{"p":3,"m":5,"v":0.57},{"p":3,"m":5,"v":0.46},{"p":3,"m":5,"v":0.4},{"p":3,"m":5,"v":0.39},{"p":3,"m":5,"v":0.37},{"p":3,"m":5,"v":0.36},{"p":3,"m":5,"v":0.35},{"p":3,"m":5,"v":0.3},{"p":3,"m":5,"v":0.28},{"p":3,"m":5,"v":0.27},{"p":3,"m":5,"v":0.25},{"p":3,"m":5,"v":0.23},{"p":3,"m":5,"v":0.2},{"p":3,"m":5,"v":0.19},{"p":3,"m":5,"v":0.18},{"p":3,"m":5,"v":0.16},{"p":3,"m":5,"v":0.14},{"p":3,"m":5,"v":0.12},{"p":3,"m":5,"v":0.11},{"p":3,"m":5,"v":0.1},{"p":3,"m":5,"v":0.09},{"p":3,"m":5,"v":0.08},{"p":3,"m":5,"v":0.07},{"p":3,"m":5,"v":0.06},{"p":3,"m":5,"v":0.05},{"p":3,"m":5,"v":0.04},{"p":3,"m":5,"v":0.03},{"p":3,"m":5,"v":0.02},
{"p":3,"m":6,"v":0.84},{"p":3,"m":6,"v":0.8},{"p":3,"m":6,"v":0.79},{"p":3,"m":6,"v":0.77},{"p":3,"m":6,"v":0.71},{"p":3,"m":6,"v":0.68},{"p":3,"m":6,"v":0.65},{"p":3,"m":6,"v":0.63},{"p":3,"m":6,"v":0.6},{"p":3,"m":6,"v":0.55},{"p":3,"m":6,"v":0.53},{"p":3,"m":6,"v":0.5},{"p":3,"m":6,"v":0.48},{"p":3,"m":6,"v":0.45},{"p":3,"m":6,"v":0.41},{"p":3,"m":6,"v":0.38},{"p":3,"m":6,"v":0.34},{"p":3,"m":6,"v":0.33},{"p":3,"m":6,"v":0.3},{"p":3,"m":6,"v":0.27},{"p":3,"m":6,"v":0.26},{"p":3,"m":6,"v":0.24},{"p":3,"m":6,"v":0.22},{"p":3,"m":6,"v":0.21},{"p":3,"m":6,"v":0.17},{"p":3,"m":6,"v":0.15},{"p":3,"m":6,"v":0.13},{"p":3,"m":6,"v":0.12},{"p":3,"m":6,"v":0.11},{"p":3,"m":6,"v":0.1},{"p":3,"m":6,"v":0.09},{"p":3,"m":6,"v":0.08},{"p":3,"m":6,"v":0.07},{"p":3,"m":6,"v":0.06},
{"p":3,"m":7,"v":0.81},{"p":3,"m":7,"v":0.78},{"p":3,"m":7,"v":0.77},{"p":3,"m":7,"v":0.72},{"p":3,"m":7,"v":0.58},{"p":3,"m":7,"v":0.52},{"p":3,"m":7,"v":0.48},{"p":3,"m":7,"v":0.47},{"p":3,"m":7,"v":0.41},{"p":3,"m":7,"v":0.33},{"p":3,"m":7,"v":0.32},{"p":3,"m":7,"v":0.31},{"p":3,"m":7,"v":0.3},{"p":3,"m":7,"v":0.28},{"p":3,"m":7,"v":0.26},{"p":3,"m":7,"v":0.25},{"p":3,"m":7,"v":0.24},{"p":3,"m":7,"v":0.22},{"p":3,"m":7,"v":0.2},{"p":3,"m":7,"v":0.19},{"p":3,"m":7,"v":0.18},{"p":3,"m":7,"v":0.17},{"p":3,"m":7,"v":0.16},{"p":3,"m":7,"v":0.15},{"p":3,"m":7,"v":0.14},{"p":3,"m":7,"v":0.13},{"p":3,"m":7,"v":0.12},{"p":3,"m":7,"v":0.11},{"p":3,"m":7,"v":0.1},{"p":3,"m":7,"v":0.09},{"p":3,"m":7,"v":0.08},
{"p":3,"m":8,"v":0.61},{"p":3,"m":8,"v":0.54},{"p":3,"m":8,"v":0.52},{"p":3,"m":8,"v":0.49},{"p":3,"m":8,"v":0.46},{"p":3,"m":8,"v":0.43},{"p":3,"m":8,"v":0.37},{"p":3,"m":8,"v":0.36},{"p":3,"m":8,"v":0.34},{"p":3,"m":8,"v":0.33},{"p":3,"m":8,"v":0.29},{"p":3,"m":8,"v":0.27},{"p":3,"m":8,"v":0.26},{"p":3,"m":8,"v":0.25},{"p":3,"m":8,"v":0.23},{"p":3,"m":8,"v":0.21},{"p":3,"m":8,"v":0.2},{"p":3,"m":8,"v":0.19},{"p":3,"m":8,"v":0.17},{"p":3,"m":8,"v":0.16},{"p":3,"m":8,"v":0.15},{"p":3,"m":8,"v":0.14},{"p":3,"m":8,"v":0.13},{"p":3,"m":8,"v":0.12},{"p":3,"m":8,"v":0.11},{"p":3,"m":8,"v":0.1},{"p":3,"m":8,"v":0.09},{"p":3,"m":8,"v":0.08},{"p":3,"m":8,"v":0.07},{"p":3,"m":8,"v":0.06},{"p":3,"m":8,"v":0.05},{"p":3,"m":8,"v":0.04},
{"p":3,"m":9,"v":0.62},{"p":3,"m":9,"v":0.54},{"p":3,"m":9,"v":0.52},{"p":3,"m":9,"v":0.46},{"p":3,"m":9,"v":0.29},{"p":3,"m":9,"v":0.28},{"p":3,"m":9,"v":0.23},{"p":3,"m":9,"v":0.21},{"p":3,"m":9,"v":0.2},{"p":3,"m":9,"v":0.19},{"p":3,"m":9,"v":0.18},{"p":3,"m":9,"v":0.17},{"p":3,"m":9,"v":0.16},{"p":3,"m":9,"v":0.15},{"p":3,"m":9,"v":0.13},{"p":3,"m":9,"v":0.12},{"p":3,"m":9,"v":0.11},{"p":3,"m":9,"v":0.1},{"p":3,"m":9,"v":0.09},{"p":3,"m":9,"v":0.08},{"p":3,"m":9,"v":0.07},{"p":3,"m":9,"v":0.06},{"p":3,"m":9,"v":0.05},{"p":3,"m":9,"v":0.04},{"p":3,"m":9,"v":0.03},{"p":3,"m":9,"v":0.02},{"p":3,"m":9,"v":0.01},
{"p":3,"m":10,"v":0.62},{"p":3,"m":10,"v":0.58},{"p":3,"m":10,"v":0.56},{"p":3,"m":10,"v":0.54},{"p":3,"m":10,"v":0.45},{"p":3,"m":10,"v":0.44},{"p":3,"m":10,"v":0.42},{"p":3,"m":10,"v":0.4},{"p":3,"m":10,"v":0.38},{"p":3,"m":10,"v":0.36},{"p":3,"m":10,"v":0.34},{"p":3,"m":10,"v":0.25},{"p":3,"m":10,"v":0.23},{"p":3,"m":10,"v":0.21},{"p":3,"m":10,"v":0.19},{"p":3,"m":10,"v":0.14},{"p":3,"m":10,"v":0.11},{"p":3,"m":10,"v":0.1},{"p":3,"m":10,"v":0.09},{"p":3,"m":10,"v":0.08},{"p":3,"m":10,"v":0.07},{"p":3,"m":10,"v":0.06},{"p":3,"m":10,"v":0.05},{"p":3,"m":10,"v":0.04},{"p":3,"m":10,"v":0.03},{"p":3,"m":10,"v":0.02},{"p":3,"m":10,"v":0.01},
{"p":3,"m":11,"v":0.82},{"p":3,"m":11,"v":0.74},{"p":3,"m":11,"v":0.66},{"p":3,"m":11,"v":0.65},{"p":3,"m":11,"v":0.48},{"p":3,"m":11,"v":0.44},{"p":3,"m":11,"v":0.4},{"p":3,"m":11,"v":0.39},{"p":3,"m":11,"v":0.36},{"p":3,"m":11,"v":0.33},{"p":3,"m":11,"v":0.32},{"p":3,"m":11,"v":0.3},{"p":3,"m":11,"v":0.27},{"p":3,"m":11,"v":0.25},{"p":3,"m":11,"v":0.23},{"p":3,"m":11,"v":0.22},{"p":3,"m":11,"v":0.21},{"p":3,"m":11,"v":0.2},{"p":3,"m":11,"v":0.19},{"p":3,"m":11,"v":0.18},{"p":3,"m":11,"v":0.17},{"p":3,"m":11,"v":0.16},{"p":3,"m":11,"v":0.15},{"p":3,"m":11,"v":0.14},{"p":3,"m":11,"v":0.13},{"p":3,"m":11,"v":0.12},{"p":3,"m":11,"v":0.11},{"p":3,"m":11,"v":0.1},{"p":3,"m":11,"v":0.09},{"p":3,"m":11,"v":0.08},{"p":3,"m":11,"v":0.07},{"p":3,"m":11,"v":0.06},{"p":3,"m":11,"v":0.05},{"p":3,"m":11,"v":0.04},{"p":3,"m":11,"v":0.03},{"p":3,"m":11,"v":0.02},{"p":3,"m":11,"v":0.01},
{"p":3,"m":12,"v":0.94},{"p":3,"m":12,"v":0.77},{"p":3,"m":12,"v":0.73},{"p":3,"m":12,"v":0.72},{"p":3,"m":12,"v":0.4},{"p":3,"m":12,"v":0.39},{"p":3,"m":12,"v":0.37},{"p":3,"m":12,"v":0.35},{"p":3,"m":12,"v":0.34},{"p":3,"m":12,"v":0.33},{"p":3,"m":12,"v":0.29},{"p":3,"m":12,"v":0.28},{"p":3,"m":12,"v":0.26},{"p":3,"m":12,"v":0.25},{"p":3,"m":12,"v":0.23},{"p":3,"m":12,"v":0.22},{"p":3,"m":12,"v":0.2},{"p":3,"m":12,"v":0.19},{"p":3,"m":12,"v":0.17},{"p":3,"m":12,"v":0.16},{"p":3,"m":12,"v":0.15},{"p":3,"m":12,"v":0.13},{"p":3,"m":12,"v":0.12},{"p":3,"m":12,"v":0.11},{"p":3,"m":12,"v":0.1},{"p":3,"m":12,"v":0.09},{"p":3,"m":12,"v":0.08},{"p":3,"m":12,"v":0.07},{"p":3,"m":12,"v":0.06},{"p":3,"m":12,"v":0.05},{"p":3,"m":12,"v":0.04},{"p":3,"m":12,"v":0.03},{"p":3,"m":12,"v":0.02},{"p":3,"m":12,"v":0.01},

{"p":4,"m":1,"v":0.221},{"p":4,"m":1,"v":0.177},{"p":4,"m":1,"v":0.111},{"p":4,"m":1,"v":0.098},{"p":4,"m":1,"v":0.076},{"p":4,"m":1,"v":0.073},{"p":4,"m":1,"v":0.07},{"p":4,"m":1,"v":0.066},{"p":4,"m":1,"v":0.063},{"p":4,"m":1,"v":0.06},{"p":4,"m":1,"v":0.058},{"p":4,"m":1,"v":0.056},{"p":4,"m":1,"v":0.053},{"p":4,"m":1,"v":0.05},{"p":4,"m":1,"v":0.047},{"p":4,"m":1,"v":0.045},{"p":4,"m":1,"v":0.042},{"p":4,"m":1,"v":0.04},
{"p":4,"m":2,"v":0.068},{"p":4,"m":2,"v":0.065},{"p":4,"m":2,"v":0.062},{"p":4,"m":2,"v":0.059},{"p":4,"m":2,"v":0.056},{"p":4,"m":2,"v":0.048},{"p":4,"m":2,"v":0.047},{"p":4,"m":2,"v":0.045},{"p":4,"m":2,"v":0.042},{"p":4,"m":2,"v":0.04},{"p":4,"m":2,"v":0.038},{"p":4,"m":2,"v":0.036},{"p":4,"m":2,"v":0.035},
{"p":4,"m":3,"v":0.122},{"p":4,"m":3,"v":0.118},{"p":4,"m":3,"v":0.093},{"p":4,"m":3,"v":0.061},{"p":4,"m":3,"v":0.06},{"p":4,"m":3,"v":0.057},{"p":4,"m":3,"v":0.053},{"p":4,"m":3,"v":0.051},{"p":4,"m":3,"v":0.049},{"p":4,"m":3,"v":0.047},{"p":4,"m":3,"v":0.045},{"p":4,"m":3,"v":0.043},{"p":4,"m":3,"v":0.041},{"p":4,"m":3,"v":0.039},{"p":4,"m":3,"v":0.037},{"p":4,"m":3,"v":0.036},
{"p":4,"m":4,"v":0.094},{"p":4,"m":4,"v":0.058},{"p":4,"m":4,"v":0.054},{"p":4,"m":4,"v":0.047},{"p":4,"m":4,"v":0.043},{"p":4,"m":4,"v":0.039},{"p":4,"m":4,"v":0.035},{"p":4,"m":4,"v":0.033},
{"p":4,"m":5,"v":0.084},{"p":4,"m":5,"v":0.06},{"p":4,"m":5,"v":0.031},{"p":4,"m":5,"v":0.03},{"p":4,"m":5,"v":0.029},{"p":4,"m":5,"v":0.027},{"p":4,"m":5,"v":0.025},{"p":4,"m":5,"v":0.024},
{"p":4,"m":6,"v":0.071},{"p":4,"m":6,"v":0.054},{"p":4,"m":6,"v":0.045},{"p":4,"m":6,"v":0.043},{"p":4,"m":6,"v":0.032},{"p":4,"m":6,"v":0.031},{"p":4,"m":6,"v":0.03},{"p":4,"m":6,"v":0.029},{"p":4,"m":6,"v":0.028},{"p":4,"m":6,"v":0.027},{"p":4,"m":6,"v":0.026},{"p":4,"m":6,"v":0.025},{"p":4,"m":6,"v":0.024},{"p":4,"m":6,"v":0.023},{"p":4,"m":6,"v":0.022},
{"p":4,"m":7,"v":0.119},{"p":4,"m":7,"v":0.116},{"p":4,"m":7,"v":0.113},{"p":4,"m":7,"v":0.11},{"p":4,"m":7,"v":0.106},{"p":4,"m":7,"v":0.103},{"p":4,"m":7,"v":0.1},{"p":4,"m":7,"v":0.091},{"p":4,"m":7,"v":0.088},{"p":4,"m":7,"v":0.085},{"p":4,"m":7,"v":0.08},{"p":4,"m":7,"v":0.078},{"p":4,"m":7,"v":0.073},{"p":4,"m":7,"v":0.065},{"p":4,"m":7,"v":0.063},{"p":4,"m":7,"v":0.061},{"p":4,"m":7,"v":0.06},{"p":4,"m":7,"v":0.058},{"p":4,"m":7,"v":0.056},{"p":4,"m":7,"v":0.054},{"p":4,"m":7,"v":0.051},{"p":4,"m":7,"v":0.049},
{"p":4,"m":8,"v":0.205},{"p":4,"m":8,"v":0.117},{"p":4,"m":8,"v":0.114},{"p":4,"m":8,"v":0.103},{"p":4,"m":8,"v":0.088},{"p":4,"m":8,"v":0.085},{"p":4,"m":8,"v":0.082},{"p":4,"m":8,"v":0.075},{"p":4,"m":8,"v":0.072},{"p":4,"m":8,"v":0.07},{"p":4,"m":8,"v":0.068},{"p":4,"m":8,"v":0.063},{"p":4,"m":8,"v":0.062},{"p":4,"m":8,"v":0.06},{"p":4,"m":8,"v":0.058},{"p":4,"m":8,"v":0.056},{"p":4,"m":8,"v":0.055},
{"p":4,"m":9,"v":0.205},{"p":4,"m":9,"v":0.202},{"p":4,"m":9,"v":0.159},{"p":4,"m":9,"v":0.15},{"p":4,"m":9,"v":0.133},{"p":4,"m":9,"v":0.131},{"p":4,"m":9,"v":0.129},{"p":4,"m":9,"v":0.127},{"p":4,"m":9,"v":0.124},{"p":4,"m":9,"v":0.117},{"p":4,"m":9,"v":0.113},{"p":4,"m":9,"v":0.11},{"p":4,"m":9,"v":0.089},{"p":4,"m":9,"v":0.086},{"p":4,"m":9,"v":0.082},{"p":4,"m":9,"v":0.08},{"p":4,"m":9,"v":0.078},{"p":4,"m":9,"v":0.076},{"p":4,"m":9,"v":0.074},{"p":4,"m":9,"v":0.072},{"p":4,"m":9,"v":0.066},
{"p":4,"m":10,"v":0.162},{"p":4,"m":10,"v":0.142},{"p":4,"m":10,"v":0.131},{"p":4,"m":10,"v":0.128},{"p":4,"m":10,"v":0.117},{"p":4,"m":10,"v":0.11},{"p":4,"m":10,"v":0.101},{"p":4,"m":10,"v":0.099},{"p":4,"m":10,"v":0.093},{"p":4,"m":10,"v":0.088},{"p":4,"m":10,"v":0.085},{"p":4,"m":10,"v":0.083},{"p":4,"m":10,"v":0.08},{"p":4,"m":10,"v":0.078},{"p":4,"m":10,"v":0.076},{"p":4,"m":10,"v":0.074},{"p":4,"m":10,"v":0.072},{"p":4,"m":10,"v":0.07},{"p":4,"m":10,"v":0.068},{"p":4,"m":10,"v":0.066},{"p":4,"m":10,"v":0.064},{"p":4,"m":10,"v":0.062},{"p":4,"m":10,"v":0.06},{"p":4,"m":10,"v":0.058},{"p":4,"m":10,"v":0.056},{"p":4,"m":10,"v":0.054},
{"p":4,"m":11,"v":0.186},{"p":4,"m":11,"v":0.133},{"p":4,"m":11,"v":0.13},{"p":4,"m":11,"v":0.121},{"p":4,"m":11,"v":0.113},{"p":4,"m":11,"v":0.11},{"p":4,"m":11,"v":0.104},{"p":4,"m":11,"v":0.097},{"p":4,"m":11,"v":0.093},{"p":4,"m":11,"v":0.089},{"p":4,"m":11,"v":0.087},{"p":4,"m":11,"v":0.081},{"p":4,"m":11,"v":0.078},{"p":4,"m":11,"v":0.072},{"p":4,"m":11,"v":0.07},{"p":4,"m":11,"v":0.068},{"p":4,"m":11,"v":0.066},{"p":4,"m":11,"v":0.064},{"p":4,"m":11,"v":0.062},{"p":4,"m":11,"v":0.06},{"p":4,"m":11,"v":0.058},
{"p":4,"m":12,"v":0.151},{"p":4,"m":12,"v":0.135},{"p":4,"m":12,"v":0.134},{"p":4,"m":12,"v":0.124},{"p":4,"m":12,"v":0.12},{"p":4,"m":12,"v":0.116},{"p":4,"m":12,"v":0.083},{"p":4,"m":12,"v":0.081},{"p":4,"m":12,"v":0.079},{"p":4,"m":12,"v":0.076},{"p":4,"m":12,"v":0.073},{"p":4,"m":12,"v":0.071},{"p":4,"m":12,"v":0.069},{"p":4,"m":12,"v":0.067},{"p":4,"m":12,"v":0.065},{"p":4,"m":12,"v":0.063},{"p":4,"m":12,"v":0.061},{"p":4,"m":12,"v":0.059},{"p":4,"m":12,"v":0.057},{"p":4,"m":12,"v":0.055},{"p":4,"m":12,"v":0.053},{"p":4,"m":12,"v":0.051},

{"p":5,"m":1,"v":0.253},{"p":5,"m":1,"v":0.222},{"p":5,"m":1,"v":0.215},{"p":5,"m":1,"v":0.175},{"p":5,"m":1,"v":0.151},{"p":5,"m":1,"v":0.146},{"p":5,"m":1,"v":0.14},{"p":5,"m":1,"v":0.134},{"p":5,"m":1,"v":0.127},{"p":5,"m":1,"v":0.12},{"p":5,"m":1,"v":0.105},{"p":5,"m":1,"v":0.1},{"p":5,"m":1,"v":0.096},{"p":5,"m":1,"v":0.093},{"p":5,"m":1,"v":0.09},{"p":5,"m":1,"v":0.087},{"p":5,"m":1,"v":0.083},{"p":5,"m":1,"v":0.08},{"p":5,"m":1,"v":0.075},{"p":5,"m":1,"v":0.07},{"p":5,"m":1,"v":0.066},
{"p":5,"m":2,"v":0.215},{"p":5,"m":2,"v":0.192},{"p":5,"m":2,"v":0.123},{"p":5,"m":2,"v":0.103},{"p":5,"m":2,"v":0.098},{"p":5,"m":2,"v":0.092},{"p":5,"m":2,"v":0.086},{"p":5,"m":2,"v":0.079},{"p":5,"m":2,"v":0.072},{"p":5,"m":2,"v":0.065},{"p":5,"m":2,"v":0.06},{"p":5,"m":2,"v":0.056},{"p":5,"m":2,"v":0.053},{"p":5,"m":2,"v":0.05},{"p":5,"m":2,"v":0.048},
{"p":5,"m":3,"v":0.149},{"p":5,"m":3,"v":0.117},{"p":5,"m":3,"v":0.089},{"p":5,"m":3,"v":0.085},{"p":5,"m":3,"v":0.081},{"p":5,"m":3,"v":0.073},{"p":5,"m":3,"v":0.069},{"p":5,"m":3,"v":0.065},{"p":5,"m":3,"v":0.06},{"p":5,"m":3,"v":0.057},
{"p":5,"m":4,"v":0.152},{"p":5,"m":4,"v":0.121},{"p":5,"m":4,"v":0.112},{"p":5,"m":4,"v":0.108},{"p":5,"m":4,"v":0.103},{"p":5,"m":4,"v":0.1},{"p":5,"m":4,"v":0.097},{"p":5,"m":4,"v":0.094},{"p":5,"m":4,"v":0.091},{"p":5,"m":4,"v":0.088},{"p":5,"m":4,"v":0.085},
{"p":5,"m":5,"v":0.209},{"p":5,"m":5,"v":0.186},{"p":5,"m":5,"v":0.181},{"p":5,"m":5,"v":0.174},{"p":5,"m":5,"v":0.153},{"p":5,"m":5,"v":0.131},{"p":5,"m":5,"v":0.126},{"p":5,"m":5,"v":0.112},{"p":5,"m":5,"v":0.108},{"p":5,"m":5,"v":0.104},{"p":5,"m":5,"v":0.099},{"p":5,"m":5,"v":0.096},
{"p":5,"m":6,"v":0.203},{"p":5,"m":6,"v":0.186},{"p":5,"m":6,"v":0.182},{"p":5,"m":6,"v":0.177},{"p":5,"m":6,"v":0.17},{"p":5,"m":6,"v":0.164},{"p":5,"m":6,"v":0.156},{"p":5,"m":6,"v":0.147},{"p":5,"m":6,"v":0.14},{"p":5,"m":6,"v":0.134},{"p":5,"m":6,"v":0.126},{"p":5,"m":6,"v":0.122},{"p":5,"m":6,"v":0.118},{"p":5,"m":6,"v":0.114},{"p":5,"m":6,"v":0.11},{"p":5,"m":6,"v":0.106},{"p":5,"m":6,"v":0.102},
{"p":5,"m":7,"v":0.339},{"p":5,"m":7,"v":0.182},{"p":5,"m":7,"v":0.176},{"p":5,"m":7,"v":0.143},{"p":5,"m":7,"v":0.14},{"p":5,"m":7,"v":0.13},{"p":5,"m":7,"v":0.125},
{"p":5,"m":8,"v":0.421},{"p":5,"m":8,"v":0.263},{"p":5,"m":8,"v":0.252},{"p":5,"m":8,"v":0.197},{"p":5,"m":8,"v":0.195},{"p":5,"m":8,"v":0.153},{"p":5,"m":8,"v":0.148},{"p":5,"m":8,"v":0.132},{"p":5,"m":8,"v":0.126},{"p":5,"m":8,"v":0.119},{"p":5,"m":8,"v":0.115},
{"p":5,"m":9,"v":0.497},{"p":5,"m":9,"v":0.381},{"p":5,"m":9,"v":0.281},{"p":5,"m":9,"v":0.27},{"p":5,"m":9,"v":0.224},{"p":5,"m":9,"v":0.184},{"p":5,"m":9,"v":0.18},{"p":5,"m":9,"v":0.175},{"p":5,"m":9,"v":0.17},{"p":5,"m":9,"v":0.165},{"p":5,"m":9,"v":0.16},{"p":5,"m":9,"v":0.155},{"p":5,"m":9,"v":0.15},{"p":5,"m":9,"v":0.145},{"p":5,"m":9,"v":0.141},{"p":5,"m":9,"v":0.137},{"p":5,"m":9,"v":0.133},
{"p":5,"m":10,"v":0.322},{"p":5,"m":10,"v":0.221},{"p":5,"m":10,"v":0.186},{"p":5,"m":10,"v":0.182},{"p":5,"m":10,"v":0.178},{"p":5,"m":10,"v":0.174},{"p":5,"m":10,"v":0.17},{"p":5,"m":10,"v":0.165},{"p":5,"m":10,"v":0.16},{"p":5,"m":10,"v":0.155},{"p":5,"m":10,"v":0.15},{"p":5,"m":10,"v":0.145},{"p":5,"m":10,"v":0.14},{"p":5,"m":10,"v":0.135},{"p":5,"m":10,"v":0.13},{"p":5,"m":10,"v":0.125},{"p":5,"m":10,"v":0.12},{"p":5,"m":10,"v":0.115},{"p":5,"m":10,"v":0.11},{"p":5,"m":10,"v":0.105},{"p":5,"m":10,"v":0.1},{"p":5,"m":10,"v":0.096},
{"p":5,"m":11,"v":0.297},{"p":5,"m":11,"v":0.221},{"p":5,"m":11,"v":0.181},{"p":5,"m":11,"v":0.168},{"p":5,"m":11,"v":0.163},{"p":5,"m":11,"v":0.157},{"p":5,"m":11,"v":0.143},{"p":5,"m":11,"v":0.14},{"p":5,"m":11,"v":0.137},{"p":5,"m":11,"v":0.131},{"p":5,"m":11,"v":0.124},{"p":5,"m":11,"v":0.118},{"p":5,"m":11,"v":0.113},{"p":5,"m":11,"v":0.11},{"p":5,"m":11,"v":0.106},{"p":5,"m":11,"v":0.102},{"p":5,"m":11,"v":0.098},{"p":5,"m":11,"v":0.094},{"p":5,"m":11,"v":0.09},{"p":5,"m":11,"v":0.086},
{"p":5,"m":12,"v":0.251},{"p":5,"m":12,"v":0.229},{"p":5,"m":12,"v":0.198},{"p":5,"m":12,"v":0.178},{"p":5,"m":12,"v":0.145},{"p":5,"m":12,"v":0.141},{"p":5,"m":12,"v":0.135},{"p":5,"m":12,"v":0.129},{"p":5,"m":12,"v":0.123},{"p":5,"m":12,"v":0.117},{"p":5,"m":12,"v":0.112},{"p":5,"m":12,"v":0.108},{"p":5,"m":12,"v":0.104},{"p":5,"m":12,"v":0.1},{"p":5,"m":12,"v":0.096},{"p":5,"m":12,"v":0.093},{"p":5,"m":12,"v":0.09},{"p":5,"m":12,"v":0.087},

{"p":6,"m":5,"v":0.89},
{"p":6,"m":8,"v":0.93},{"p":6,"m":8,"v":0.91},{"p":6,"m":8,"v":0.89},{"p":6,"m":8,"v":0.875},
{"p":6,"m":9,"v":0.91},{"p":6,"m":9,"v":0.905},{"p":6,"m":9,"v":0.9},{"p":6,"m":9,"v":0.895},{"p":6,"m":9,"v":0.89},{"p":6,"m":9,"v":0.88},{"p":6,"m":9,"v":0.86},
{"p":6,"m":10,"v":0.78},{"p":6,"m":10,"v":0.72},{"p":6,"m":10,"v":0.7},{"p":6,"m":10,"v":0.68},
{"p":6,"m":11,"v":0.78},{"p":6,"m":11,"v":0.72},{"p":6,"m":11,"v":0.69},{"p":6,"m":11,"v":0.685},{"p":6,"m":11,"v":0.63},{"p":6,"m":11,"v":0.61},{"p":6,"m":11,"v":0.02},{"p":6,"m":11,"v":0.005},
{"p":6,"m":12,"v":0.85},{"p":6,"m":12,"v":0.78},{"p":6,"m":12,"v":0.75},{"p":6,"m":12,"v":0.72},{"p":6,"m":12,"v":0.68},{"p":6,"m":12,"v":0.675}
]
},
"columns": 3,
"spacing": {"row": 105, "column": 71},
"bounds": "flush",
"concat": [
{"title": {"text": "BET FS Mature", "dy": 3.1}, "width": 320, "height": 171, "layer": [
 {"data": {"name": "box"}, "transform": [{"filter": "datum.p==1"}], "mark": {"type": "rule", "strokeDash": [4, 3], "color": "#000"}, "encoding": {"x": {"field": "m", "type": "ordinal", "scale": {"domain": [1,2,3,4,5,6,7,8,9,10,11,12], "paddingInner": 0.2, "paddingOuter": 0.1}, "title": "Month"}, "y": {"field": "q3", "type": "quantitative", "scale": {"domain": [-0.0394, 1.024], "nice": false, "zero": false}, "title": "Proportions", "axis": {"values": [0, 0.2, 0.4, 0.6, 0.8, 1], "format": ".1f"}}, "y2": {"field": "hi"}}},
 {"data": {"name": "box"}, "transform": [{"filter": "datum.p==1"}], "mark": {"type": "rule", "strokeDash": [4, 3], "color": "#000"}, "encoding": {"x": {"field": "m", "type": "ordinal", "scale": {"domain": [1,2,3,4,5,6,7,8,9,10,11,12], "paddingInner": 0.2, "paddingOuter": 0.1}, "title": "Month"}, "y": {"field": "lo", "type": "quantitative", "scale": {"domain": [-0.0394, 1.024], "nice": false, "zero": false}, "title": "Proportions", "axis": {"values": [0, 0.2, 0.4, 0.6, 0.8, 1], "format": ".1f"}}, "y2": {"field": "q1"}}},
 {"data": {"name": "box"}, "transform": [{"filter": "datum.p==1"}], "mark": {"type": "tick", "size": 10.7, "thickness": 1, "color": "#000", "opacity": 1}, "encoding": {"x": {"field": "m", "type": "ordinal", "scale": {"domain": [1,2,3,4,5,6,7,8,9,10,11,12], "paddingInner": 0.2, "paddingOuter": 0.1}, "title": "Month"}, "y": {"field": "hi", "type": "quantitative", "scale": {"domain": [-0.0394, 1.024], "nice": false, "zero": false}, "title": "Proportions", "axis": {"values": [0, 0.2, 0.4, 0.6, 0.8, 1], "format": ".1f"}}}},
 {"data": {"name": "box"}, "transform": [{"filter": "datum.p==1"}], "mark": {"type": "tick", "size": 10.7, "thickness": 1, "color": "#000", "opacity": 1}, "encoding": {"x": {"field": "m", "type": "ordinal", "scale": {"domain": [1,2,3,4,5,6,7,8,9,10,11,12], "paddingInner": 0.2, "paddingOuter": 0.1}, "title": "Month"}, "y": {"field": "lo", "type": "quantitative", "scale": {"domain": [-0.0394, 1.024], "nice": false, "zero": false}, "title": "Proportions", "axis": {"values": [0, 0.2, 0.4, 0.6, 0.8, 1], "format": ".1f"}}}},
 {"data": {"name": "box"}, "transform": [{"filter": "datum.p==1"}], "mark": {"type": "bar", "fill": "#ff0000", "stroke": "#222", "strokeWidth": 1, "opacity": 1}, "encoding": {"x": {"field": "m", "type": "ordinal", "scale": {"domain": [1,2,3,4,5,6,7,8,9,10,11,12], "paddingInner": 0.2, "paddingOuter": 0.1}, "title": "Month"}, "y": {"field": "q1", "type": "quantitative", "scale": {"domain": [-0.0394, 1.024], "nice": false, "zero": false}, "title": "Proportions", "axis": {"values": [0, 0.2, 0.4, 0.6, 0.8, 1], "format": ".1f"}}, "y2": {"field": "q3"}}},
 {"data": {"name": "box"}, "transform": [{"filter": "datum.p==1"}], "mark": {"type": "tick", "size": 21.3, "thickness": 3, "color": "#000", "opacity": 1}, "encoding": {"x": {"field": "m", "type": "ordinal", "scale": {"domain": [1,2,3,4,5,6,7,8,9,10,11,12], "paddingInner": 0.2, "paddingOuter": 0.1}, "title": "Month"}, "y": {"field": "md", "type": "quantitative", "scale": {"domain": [-0.0394, 1.024], "nice": false, "zero": false}, "title": "Proportions", "axis": {"values": [0, 0.2, 0.4, 0.6, 0.8, 1], "format": ".1f"}}}},
 {"data": {"name": "out"}, "transform": [{"filter": "datum.p==1"}], "mark": {"type": "point", "shape": "circle", "size": 6, "filled": false, "color": "#000", "strokeWidth": 0.8, "opacity": 0.7}, "encoding": {"x": {"field": "m", "type": "ordinal", "scale": {"domain": [1,2,3,4,5,6,7,8,9,10,11,12], "paddingInner": 0.2, "paddingOuter": 0.1}, "title": "Month"}, "y": {"field": "v", "type": "quantitative", "scale": {"domain": [-0.0394, 1.024], "nice": false, "zero": false}, "title": "Proportions", "axis": {"values": [0, 0.2, 0.4, 0.6, 0.8, 1], "format": ".1f"}}}}
]},
{"title": {"text": "YFT FS Mature", "dy": 0.6}, "width": 320, "height": 171, "layer": [
 {"data": {"name": "box"}, "transform": [{"filter": "datum.p==2"}], "mark": {"type": "rule", "strokeDash": [4, 3], "color": "#000"}, "encoding": {"x": {"field": "m", "type": "ordinal", "scale": {"domain": [1,2,3,4,5,6,7,8,9,10,11,12], "paddingInner": 0.2, "paddingOuter": 0.1}, "title": "Month"}, "y": {"field": "q3", "type": "quantitative", "scale": {"domain": [-0.04, 1.04], "nice": false, "zero": false}, "title": "Proportions", "axis": {"values": [0, 0.2, 0.4, 0.6, 0.8, 1], "format": ".1f"}}, "y2": {"field": "hi"}}},
 {"data": {"name": "box"}, "transform": [{"filter": "datum.p==2"}], "mark": {"type": "rule", "strokeDash": [4, 3], "color": "#000"}, "encoding": {"x": {"field": "m", "type": "ordinal", "scale": {"domain": [1,2,3,4,5,6,7,8,9,10,11,12], "paddingInner": 0.2, "paddingOuter": 0.1}, "title": "Month"}, "y": {"field": "lo", "type": "quantitative", "scale": {"domain": [-0.04, 1.04], "nice": false, "zero": false}, "title": "Proportions", "axis": {"values": [0, 0.2, 0.4, 0.6, 0.8, 1], "format": ".1f"}}, "y2": {"field": "q1"}}},
 {"data": {"name": "box"}, "transform": [{"filter": "datum.p==2"}], "mark": {"type": "tick", "size": 10.7, "thickness": 1, "color": "#000", "opacity": 1}, "encoding": {"x": {"field": "m", "type": "ordinal", "scale": {"domain": [1,2,3,4,5,6,7,8,9,10,11,12], "paddingInner": 0.2, "paddingOuter": 0.1}, "title": "Month"}, "y": {"field": "hi", "type": "quantitative", "scale": {"domain": [-0.04, 1.04], "nice": false, "zero": false}, "title": "Proportions", "axis": {"values": [0, 0.2, 0.4, 0.6, 0.8, 1], "format": ".1f"}}}},
 {"data": {"name": "box"}, "transform": [{"filter": "datum.p==2"}], "mark": {"type": "tick", "size": 10.7, "thickness": 1, "color": "#000", "opacity": 1}, "encoding": {"x": {"field": "m", "type": "ordinal", "scale": {"domain": [1,2,3,4,5,6,7,8,9,10,11,12], "paddingInner": 0.2, "paddingOuter": 0.1}, "title": "Month"}, "y": {"field": "lo", "type": "quantitative", "scale": {"domain": [-0.04, 1.04], "nice": false, "zero": false}, "title": "Proportions", "axis": {"values": [0, 0.2, 0.4, 0.6, 0.8, 1], "format": ".1f"}}}},
 {"data": {"name": "box"}, "transform": [{"filter": "datum.p==2"}], "mark": {"type": "bar", "fill": "#00cd00", "stroke": "#222", "strokeWidth": 1, "opacity": 1}, "encoding": {"x": {"field": "m", "type": "ordinal", "scale": {"domain": [1,2,3,4,5,6,7,8,9,10,11,12], "paddingInner": 0.2, "paddingOuter": 0.1}, "title": "Month"}, "y": {"field": "q1", "type": "quantitative", "scale": {"domain": [-0.04, 1.04], "nice": false, "zero": false}, "title": "Proportions", "axis": {"values": [0, 0.2, 0.4, 0.6, 0.8, 1], "format": ".1f"}}, "y2": {"field": "q3"}}},
 {"data": {"name": "box"}, "transform": [{"filter": "datum.p==2"}], "mark": {"type": "tick", "size": 21.3, "thickness": 3, "color": "#000", "opacity": 1}, "encoding": {"x": {"field": "m", "type": "ordinal", "scale": {"domain": [1,2,3,4,5,6,7,8,9,10,11,12], "paddingInner": 0.2, "paddingOuter": 0.1}, "title": "Month"}, "y": {"field": "md", "type": "quantitative", "scale": {"domain": [-0.04, 1.04], "nice": false, "zero": false}, "title": "Proportions", "axis": {"values": [0, 0.2, 0.4, 0.6, 0.8, 1], "format": ".1f"}}}},
 {"data": {"name": "out"}, "transform": [{"filter": "datum.p==2"}], "mark": {"type": "point", "shape": "circle", "size": 6, "filled": false, "color": "#000", "strokeWidth": 0.8, "opacity": 0.7}, "encoding": {"x": {"field": "m", "type": "ordinal", "scale": {"domain": [1,2,3,4,5,6,7,8,9,10,11,12], "paddingInner": 0.2, "paddingOuter": 0.1}, "title": "Month"}, "y": {"field": "v", "type": "quantitative", "scale": {"domain": [-0.04, 1.04], "nice": false, "zero": false}, "title": "Proportions", "axis": {"values": [0, 0.2, 0.4, 0.6, 0.8, 1], "format": ".1f"}}}}
]},
{"title": {"text": "SKJ FS Mature", "dy": 0}, "width": 320, "height": 171, "layer": [
 {"data": {"name": "box"}, "transform": [{"filter": "datum.p==3"}], "mark": {"type": "rule", "strokeDash": [4, 3], "color": "#000"}, "encoding": {"x": {"field": "m", "type": "ordinal", "scale": {"domain": [1,2,3,4,5,6,7,8,9,10,11,12], "paddingInner": 0.2, "paddingOuter": 0.1}, "title": "Month"}, "y": {"field": "q3", "type": "quantitative", "scale": {"domain": [-0.0376, 0.978], "nice": false, "zero": false}, "title": "Proportions", "axis": {"values": [0, 0.2, 0.4, 0.6, 0.8], "format": ".1f"}}, "y2": {"field": "hi"}}},
 {"data": {"name": "box"}, "transform": [{"filter": "datum.p==3"}], "mark": {"type": "rule", "strokeDash": [4, 3], "color": "#000"}, "encoding": {"x": {"field": "m", "type": "ordinal", "scale": {"domain": [1,2,3,4,5,6,7,8,9,10,11,12], "paddingInner": 0.2, "paddingOuter": 0.1}, "title": "Month"}, "y": {"field": "lo", "type": "quantitative", "scale": {"domain": [-0.0376, 0.978], "nice": false, "zero": false}, "title": "Proportions", "axis": {"values": [0, 0.2, 0.4, 0.6, 0.8], "format": ".1f"}}, "y2": {"field": "q1"}}},
 {"data": {"name": "box"}, "transform": [{"filter": "datum.p==3"}], "mark": {"type": "tick", "size": 10.7, "thickness": 1, "color": "#000", "opacity": 1}, "encoding": {"x": {"field": "m", "type": "ordinal", "scale": {"domain": [1,2,3,4,5,6,7,8,9,10,11,12], "paddingInner": 0.2, "paddingOuter": 0.1}, "title": "Month"}, "y": {"field": "hi", "type": "quantitative", "scale": {"domain": [-0.0376, 0.978], "nice": false, "zero": false}, "title": "Proportions", "axis": {"values": [0, 0.2, 0.4, 0.6, 0.8], "format": ".1f"}}}},
 {"data": {"name": "box"}, "transform": [{"filter": "datum.p==3"}], "mark": {"type": "tick", "size": 10.7, "thickness": 1, "color": "#000", "opacity": 1}, "encoding": {"x": {"field": "m", "type": "ordinal", "scale": {"domain": [1,2,3,4,5,6,7,8,9,10,11,12], "paddingInner": 0.2, "paddingOuter": 0.1}, "title": "Month"}, "y": {"field": "lo", "type": "quantitative", "scale": {"domain": [-0.0376, 0.978], "nice": false, "zero": false}, "title": "Proportions", "axis": {"values": [0, 0.2, 0.4, 0.6, 0.8], "format": ".1f"}}}},
 {"data": {"name": "box"}, "transform": [{"filter": "datum.p==3"}], "mark": {"type": "bar", "fill": "#0000ff", "stroke": "#222", "strokeWidth": 1, "opacity": 1}, "encoding": {"x": {"field": "m", "type": "ordinal", "scale": {"domain": [1,2,3,4,5,6,7,8,9,10,11,12], "paddingInner": 0.2, "paddingOuter": 0.1}, "title": "Month"}, "y": {"field": "q1", "type": "quantitative", "scale": {"domain": [-0.0376, 0.978], "nice": false, "zero": false}, "title": "Proportions", "axis": {"values": [0, 0.2, 0.4, 0.6, 0.8], "format": ".1f"}}, "y2": {"field": "q3"}}},
 {"data": {"name": "box"}, "transform": [{"filter": "datum.p==3"}], "mark": {"type": "tick", "size": 21.3, "thickness": 3, "color": "#000", "opacity": 1}, "encoding": {"x": {"field": "m", "type": "ordinal", "scale": {"domain": [1,2,3,4,5,6,7,8,9,10,11,12], "paddingInner": 0.2, "paddingOuter": 0.1}, "title": "Month"}, "y": {"field": "md", "type": "quantitative", "scale": {"domain": [-0.0376, 0.978], "nice": false, "zero": false}, "title": "Proportions", "axis": {"values": [0, 0.2, 0.4, 0.6, 0.8], "format": ".1f"}}}},
 {"data": {"name": "out"}, "transform": [{"filter": "datum.p==3"}], "mark": {"type": "point", "shape": "circle", "size": 6, "filled": false, "color": "#000", "strokeWidth": 0.8, "opacity": 0.7}, "encoding": {"x": {"field": "m", "type": "ordinal", "scale": {"domain": [1,2,3,4,5,6,7,8,9,10,11,12], "paddingInner": 0.2, "paddingOuter": 0.1}, "title": "Month"}, "y": {"field": "v", "type": "quantitative", "scale": {"domain": [-0.0376, 0.978], "nice": false, "zero": false}, "title": "Proportions", "axis": {"values": [0, 0.2, 0.4, 0.6, 0.8], "format": ".1f"}}}}
]},
{"title": {"text": "BET LS Mature", "dy": 0}, "width": 320, "height": 171, "layer": [
 {"data": {"name": "box"}, "transform": [{"filter": "datum.p==4"}], "mark": {"type": "rule", "strokeDash": [4, 3], "color": "#000"}, "encoding": {"x": {"field": "m", "type": "ordinal", "scale": {"domain": [1,2,3,4,5,6,7,8,9,10,11,12], "paddingInner": 0.2, "paddingOuter": 0.1}, "title": "Month"}, "y": {"field": "q3", "type": "quantitative", "scale": {"domain": [-0.0088, 0.2298], "nice": false, "zero": false}, "title": "Proportions", "axis": {"values": [0, 0.05, 0.1, 0.15, 0.2], "format": ".2f"}}, "y2": {"field": "hi"}}},
 {"data": {"name": "box"}, "transform": [{"filter": "datum.p==4"}], "mark": {"type": "rule", "strokeDash": [4, 3], "color": "#000"}, "encoding": {"x": {"field": "m", "type": "ordinal", "scale": {"domain": [1,2,3,4,5,6,7,8,9,10,11,12], "paddingInner": 0.2, "paddingOuter": 0.1}, "title": "Month"}, "y": {"field": "lo", "type": "quantitative", "scale": {"domain": [-0.0088, 0.2298], "nice": false, "zero": false}, "title": "Proportions", "axis": {"values": [0, 0.05, 0.1, 0.15, 0.2], "format": ".2f"}}, "y2": {"field": "q1"}}},
 {"data": {"name": "box"}, "transform": [{"filter": "datum.p==4"}], "mark": {"type": "tick", "size": 10.7, "thickness": 1, "color": "#000", "opacity": 1}, "encoding": {"x": {"field": "m", "type": "ordinal", "scale": {"domain": [1,2,3,4,5,6,7,8,9,10,11,12], "paddingInner": 0.2, "paddingOuter": 0.1}, "title": "Month"}, "y": {"field": "hi", "type": "quantitative", "scale": {"domain": [-0.0088, 0.2298], "nice": false, "zero": false}, "title": "Proportions", "axis": {"values": [0, 0.05, 0.1, 0.15, 0.2], "format": ".2f"}}}},
 {"data": {"name": "box"}, "transform": [{"filter": "datum.p==4"}], "mark": {"type": "tick", "size": 10.7, "thickness": 1, "color": "#000", "opacity": 1}, "encoding": {"x": {"field": "m", "type": "ordinal", "scale": {"domain": [1,2,3,4,5,6,7,8,9,10,11,12], "paddingInner": 0.2, "paddingOuter": 0.1}, "title": "Month"}, "y": {"field": "lo", "type": "quantitative", "scale": {"domain": [-0.0088, 0.2298], "nice": false, "zero": false}, "title": "Proportions", "axis": {"values": [0, 0.05, 0.1, 0.15, 0.2], "format": ".2f"}}}},
 {"data": {"name": "box"}, "transform": [{"filter": "datum.p==4"}], "mark": {"type": "bar", "fill": "#ff0000", "stroke": "#222", "strokeWidth": 1, "opacity": 1}, "encoding": {"x": {"field": "m", "type": "ordinal", "scale": {"domain": [1,2,3,4,5,6,7,8,9,10,11,12], "paddingInner": 0.2, "paddingOuter": 0.1}, "title": "Month"}, "y": {"field": "q1", "type": "quantitative", "scale": {"domain": [-0.0088, 0.2298], "nice": false, "zero": false}, "title": "Proportions", "axis": {"values": [0, 0.05, 0.1, 0.15, 0.2], "format": ".2f"}}, "y2": {"field": "q3"}}},
 {"data": {"name": "box"}, "transform": [{"filter": "datum.p==4"}], "mark": {"type": "tick", "size": 21.3, "thickness": 3, "color": "#000", "opacity": 1}, "encoding": {"x": {"field": "m", "type": "ordinal", "scale": {"domain": [1,2,3,4,5,6,7,8,9,10,11,12], "paddingInner": 0.2, "paddingOuter": 0.1}, "title": "Month"}, "y": {"field": "md", "type": "quantitative", "scale": {"domain": [-0.0088, 0.2298], "nice": false, "zero": false}, "title": "Proportions", "axis": {"values": [0, 0.05, 0.1, 0.15, 0.2], "format": ".2f"}}}},
 {"data": {"name": "out"}, "transform": [{"filter": "datum.p==4"}], "mark": {"type": "point", "shape": "circle", "size": 6, "filled": false, "color": "#000", "strokeWidth": 0.8, "opacity": 0.7}, "encoding": {"x": {"field": "m", "type": "ordinal", "scale": {"domain": [1,2,3,4,5,6,7,8,9,10,11,12], "paddingInner": 0.2, "paddingOuter": 0.1}, "title": "Month"}, "y": {"field": "v", "type": "quantitative", "scale": {"domain": [-0.0088, 0.2298], "nice": false, "zero": false}, "title": "Proportions", "axis": {"values": [0, 0.05, 0.1, 0.15, 0.2], "format": ".2f"}}}}
]},
{"title": {"text": "YFT LS Mature", "dy": 1.55}, "width": 320, "height": 171, "layer": [
 {"data": {"name": "box"}, "transform": [{"filter": "datum.p==5"}], "mark": {"type": "rule", "strokeDash": [4, 3], "color": "#000"}, "encoding": {"x": {"field": "m", "type": "ordinal", "scale": {"domain": [1,2,3,4,5,6,7,8,9,10,11,12], "paddingInner": 0.2, "paddingOuter": 0.1}, "title": "Month"}, "y": {"field": "q3", "type": "quantitative", "scale": {"domain": [-0.0199, 0.517], "nice": false, "zero": false}, "title": "Proportions", "axis": {"values": [0, 0.1, 0.2, 0.3, 0.4, 0.5], "format": ".1f"}}, "y2": {"field": "hi"}}},
 {"data": {"name": "box"}, "transform": [{"filter": "datum.p==5"}], "mark": {"type": "rule", "strokeDash": [4, 3], "color": "#000"}, "encoding": {"x": {"field": "m", "type": "ordinal", "scale": {"domain": [1,2,3,4,5,6,7,8,9,10,11,12], "paddingInner": 0.2, "paddingOuter": 0.1}, "title": "Month"}, "y": {"field": "lo", "type": "quantitative", "scale": {"domain": [-0.0199, 0.517], "nice": false, "zero": false}, "title": "Proportions", "axis": {"values": [0, 0.1, 0.2, 0.3, 0.4, 0.5], "format": ".1f"}}, "y2": {"field": "q1"}}},
 {"data": {"name": "box"}, "transform": [{"filter": "datum.p==5"}], "mark": {"type": "tick", "size": 10.7, "thickness": 1, "color": "#000", "opacity": 1}, "encoding": {"x": {"field": "m", "type": "ordinal", "scale": {"domain": [1,2,3,4,5,6,7,8,9,10,11,12], "paddingInner": 0.2, "paddingOuter": 0.1}, "title": "Month"}, "y": {"field": "hi", "type": "quantitative", "scale": {"domain": [-0.0199, 0.517], "nice": false, "zero": false}, "title": "Proportions", "axis": {"values": [0, 0.1, 0.2, 0.3, 0.4, 0.5], "format": ".1f"}}}},
 {"data": {"name": "box"}, "transform": [{"filter": "datum.p==5"}], "mark": {"type": "tick", "size": 10.7, "thickness": 1, "color": "#000", "opacity": 1}, "encoding": {"x": {"field": "m", "type": "ordinal", "scale": {"domain": [1,2,3,4,5,6,7,8,9,10,11,12], "paddingInner": 0.2, "paddingOuter": 0.1}, "title": "Month"}, "y": {"field": "lo", "type": "quantitative", "scale": {"domain": [-0.0199, 0.517], "nice": false, "zero": false}, "title": "Proportions", "axis": {"values": [0, 0.1, 0.2, 0.3, 0.4, 0.5], "format": ".1f"}}}},
 {"data": {"name": "box"}, "transform": [{"filter": "datum.p==5"}], "mark": {"type": "bar", "fill": "#00cd00", "stroke": "#222", "strokeWidth": 1, "opacity": 1}, "encoding": {"x": {"field": "m", "type": "ordinal", "scale": {"domain": [1,2,3,4,5,6,7,8,9,10,11,12], "paddingInner": 0.2, "paddingOuter": 0.1}, "title": "Month"}, "y": {"field": "q1", "type": "quantitative", "scale": {"domain": [-0.0199, 0.517], "nice": false, "zero": false}, "title": "Proportions", "axis": {"values": [0, 0.1, 0.2, 0.3, 0.4, 0.5], "format": ".1f"}}, "y2": {"field": "q3"}}},
 {"data": {"name": "box"}, "transform": [{"filter": "datum.p==5"}], "mark": {"type": "tick", "size": 21.3, "thickness": 3, "color": "#000", "opacity": 1}, "encoding": {"x": {"field": "m", "type": "ordinal", "scale": {"domain": [1,2,3,4,5,6,7,8,9,10,11,12], "paddingInner": 0.2, "paddingOuter": 0.1}, "title": "Month"}, "y": {"field": "md", "type": "quantitative", "scale": {"domain": [-0.0199, 0.517], "nice": false, "zero": false}, "title": "Proportions", "axis": {"values": [0, 0.1, 0.2, 0.3, 0.4, 0.5], "format": ".1f"}}}},
 {"data": {"name": "out"}, "transform": [{"filter": "datum.p==5"}], "mark": {"type": "point", "shape": "circle", "size": 6, "filled": false, "color": "#000", "strokeWidth": 0.8, "opacity": 0.7}, "encoding": {"x": {"field": "m", "type": "ordinal", "scale": {"domain": [1,2,3,4,5,6,7,8,9,10,11,12], "paddingInner": 0.2, "paddingOuter": 0.1}, "title": "Month"}, "y": {"field": "v", "type": "quantitative", "scale": {"domain": [-0.0199, 0.517], "nice": false, "zero": false}, "title": "Proportions", "axis": {"values": [0, 0.1, 0.2, 0.3, 0.4, 0.5], "format": ".1f"}}}}
]},
{"title": {"text": "SKJ LS Mature", "dy": 0}, "width": 320, "height": 171, "layer": [
 {"data": {"name": "box"}, "transform": [{"filter": "datum.p==6"}], "mark": {"type": "rule", "strokeDash": [4, 3], "color": "#000"}, "encoding": {"x": {"field": "m", "type": "ordinal", "scale": {"domain": [1,2,3,4,5,6,7,8,9,10,11,12], "paddingInner": 0.2, "paddingOuter": 0.1}, "title": "Month"}, "y": {"field": "q3", "type": "quantitative", "scale": {"domain": [-0.0372, 0.967], "nice": false, "zero": false}, "title": "Proportions", "axis": {"values": [0, 0.2, 0.4, 0.6, 0.8], "format": ".1f"}}, "y2": {"field": "hi"}}},
 {"data": {"name": "box"}, "transform": [{"filter": "datum.p==6"}], "mark": {"type": "rule", "strokeDash": [4, 3], "color": "#000"}, "encoding": {"x": {"field": "m", "type": "ordinal", "scale": {"domain": [1,2,3,4,5,6,7,8,9,10,11,12], "paddingInner": 0.2, "paddingOuter": 0.1}, "title": "Month"}, "y": {"field": "lo", "type": "quantitative", "scale": {"domain": [-0.0372, 0.967], "nice": false, "zero": false}, "title": "Proportions", "axis": {"values": [0, 0.2, 0.4, 0.6, 0.8], "format": ".1f"}}, "y2": {"field": "q1"}}},
 {"data": {"name": "box"}, "transform": [{"filter": "datum.p==6"}], "mark": {"type": "tick", "size": 10.7, "thickness": 1, "color": "#000", "opacity": 1}, "encoding": {"x": {"field": "m", "type": "ordinal", "scale": {"domain": [1,2,3,4,5,6,7,8,9,10,11,12], "paddingInner": 0.2, "paddingOuter": 0.1}, "title": "Month"}, "y": {"field": "hi", "type": "quantitative", "scale": {"domain": [-0.0372, 0.967], "nice": false, "zero": false}, "title": "Proportions", "axis": {"values": [0, 0.2, 0.4, 0.6, 0.8], "format": ".1f"}}}},
 {"data": {"name": "box"}, "transform": [{"filter": "datum.p==6"}], "mark": {"type": "tick", "size": 10.7, "thickness": 1, "color": "#000", "opacity": 1}, "encoding": {"x": {"field": "m", "type": "ordinal", "scale": {"domain": [1,2,3,4,5,6,7,8,9,10,11,12], "paddingInner": 0.2, "paddingOuter": 0.1}, "title": "Month"}, "y": {"field": "lo", "type": "quantitative", "scale": {"domain": [-0.0372, 0.967], "nice": false, "zero": false}, "title": "Proportions", "axis": {"values": [0, 0.2, 0.4, 0.6, 0.8], "format": ".1f"}}}},
 {"data": {"name": "box"}, "transform": [{"filter": "datum.p==6"}], "mark": {"type": "bar", "fill": "#0000ff", "stroke": "#222", "strokeWidth": 1, "opacity": 1}, "encoding": {"x": {"field": "m", "type": "ordinal", "scale": {"domain": [1,2,3,4,5,6,7,8,9,10,11,12], "paddingInner": 0.2, "paddingOuter": 0.1}, "title": "Month"}, "y": {"field": "q1", "type": "quantitative", "scale": {"domain": [-0.0372, 0.967], "nice": false, "zero": false}, "title": "Proportions", "axis": {"values": [0, 0.2, 0.4, 0.6, 0.8], "format": ".1f"}}, "y2": {"field": "q3"}}},
 {"data": {"name": "box"}, "transform": [{"filter": "datum.p==6"}], "mark": {"type": "tick", "size": 21.3, "thickness": 3, "color": "#000", "opacity": 1}, "encoding": {"x": {"field": "m", "type": "ordinal", "scale": {"domain": [1,2,3,4,5,6,7,8,9,10,11,12], "paddingInner": 0.2, "paddingOuter": 0.1}, "title": "Month"}, "y": {"field": "md", "type": "quantitative", "scale": {"domain": [-0.0372, 0.967], "nice": false, "zero": false}, "title": "Proportions", "axis": {"values": [0, 0.2, 0.4, 0.6, 0.8], "format": ".1f"}}}},
 {"data": {"name": "out"}, "transform": [{"filter": "datum.p==6"}], "mark": {"type": "point", "shape": "circle", "size": 6, "filled": false, "color": "#000", "strokeWidth": 0.8, "opacity": 0.7}, "encoding": {"x": {"field": "m", "type": "ordinal", "scale": {"domain": [1,2,3,4,5,6,7,8,9,10,11,12], "paddingInner": 0.2, "paddingOuter": 0.1}, "title": "Month"}, "y": {"field": "v", "type": "quantitative", "scale": {"domain": [-0.0372, 0.967], "nice": false, "zero": false}, "title": "Proportions", "axis": {"values": [0, 0.2, 0.4, 0.6, 0.8], "format": ".1f"}}}}
]}
]
}
